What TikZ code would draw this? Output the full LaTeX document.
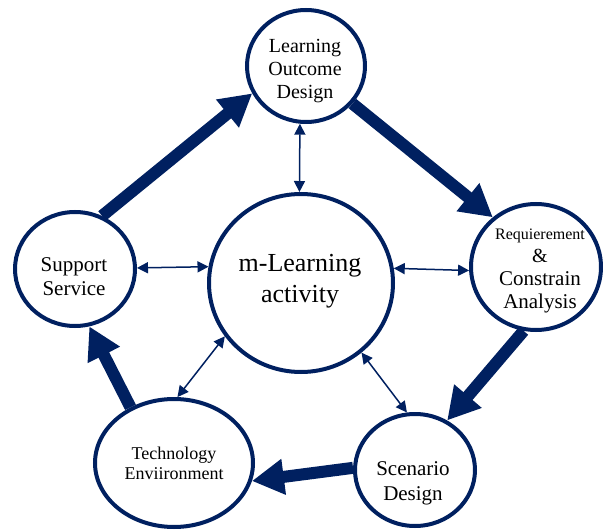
\documentclass[tikz,border=0pt]{standalone}
\usepackage{fontspec}
\setmainfont{Liberation Serif}
\usepackage{tikz}
\usetikzlibrary{arrows.meta, shapes.geometric}
\definecolor{darkblue}{HTML}{002060}

\tikzset{
    ring/.style={draw=darkblue, line width=4pt, ellipse, fill=white, inner sep=0pt},
    ringtext/.style={align=center, text=black},
    flow/.style={draw=darkblue, line width=12pt, -{Triangle[length=32pt, width=34pt]}},
    link/.style={draw=darkblue, line width=1.5pt,
        {Triangle[length=11pt, width=11pt]}-{Triangle[length=11pt, width=11pt]}}
}

\begin{document}
\begin{tikzpicture}[x=1pt, y=-1pt]
    \useasboundingbox (0,0) rectangle (603,532);

    % the six rings
    \foreach \name/\x/\y/\w/\h in {
        act/301/283/184/178,
        lod/306/66/118/112,
        req/536/267/130/126,
        sup/75/269/120/114,
        tech/174/463/158/128,
        scen/415/470/120/112}
    {
        \node[ring, minimum width=\w, minimum height=\h] (\name) at (\x,\y) {};
    }

    % texts in the rings
    \node[ringtext, font=\fontsize{26}{31}\selectfont] (act-txt) at (300,281) {m-Learning\\activity};
    \node[ringtext, font=\fontsize{20}{23}\selectfont] (lod-txt) at (305,71) {Learning\\Outcome\\Design};
    \node[ringtext, font=\fontsize{21}{23}\selectfont] (req-txt) at (540,271)
        {{\fontsize{16}{23}\selectfont Requierement}\\{\fontsize{20}{23}\selectfont\&}\\Constrain\\Analysis};
    \node[ringtext, font=\fontsize{21}{24}\selectfont] (sup-txt) at (74,277) {Support\\Service};
    \node[ringtext, font=\fontsize{18}{20}\selectfont] (tech-txt) at (174,463) {Technology\\Enviironment};
    \node[ringtext, font=\fontsize{21}{25}\selectfont] (scen-txt) at (413,483) {Scenario\\Design};

    % outer cycle
    \foreach \from/\to in {sup.63/lod.207, lod.321/req.131, req.259/scen.57,
                           scen.178/tech.347, tech.128/sup.284}
    {
        \draw[flow] (\from) -- (\to);
    }

    % links to the centre
    \foreach \from/\to in {act.91/lod.264, act.170/sup.1, act.9/req.183,
                           act.215/tech.87, act.311/scen.98}
    {
        \draw[link] (\from) -- (\to);
    }
\end{tikzpicture}
\end{document}
